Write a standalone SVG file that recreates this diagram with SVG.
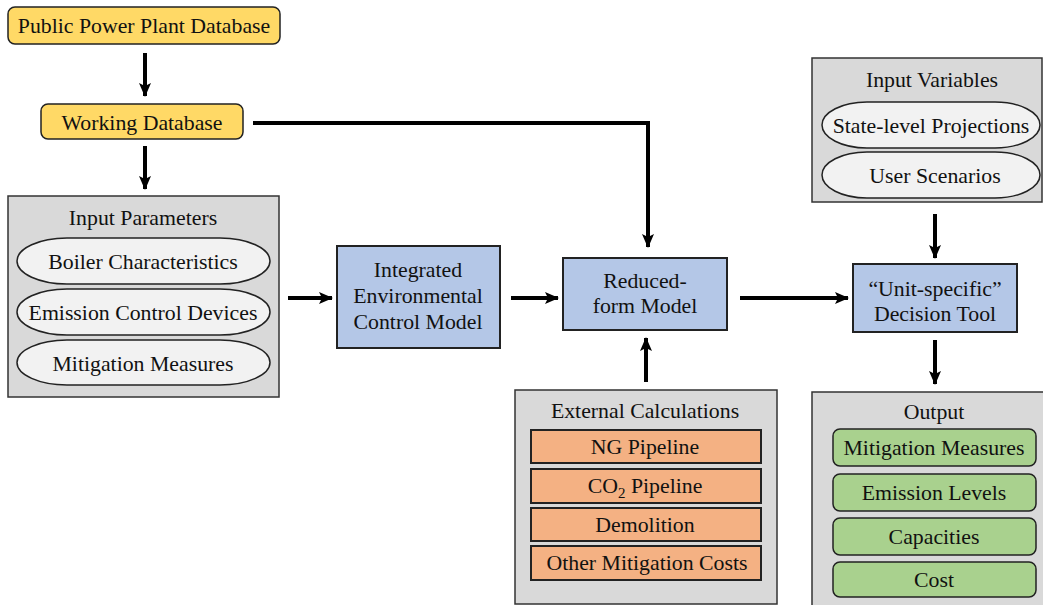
<svg xmlns="http://www.w3.org/2000/svg" width="1043" height="605" viewBox="0 0 1043 605">
<defs>
<marker id="ah" markerWidth="14" markerHeight="12" refX="13" refY="6" orient="auto" markerUnits="userSpaceOnUse">
<path d="M0,0 L14,6 L0,12 L3,6 Z" fill="#000"/>
</marker>
</defs>
<style>
text{font-family:"Liberation Serif","Times New Roman",serif;font-size:21.8px;fill:#111;text-anchor:middle}
.yel{fill:#FFD966;stroke:#222;stroke-width:1.5}
.grp{fill:#D9D9D9;stroke:#333;stroke-width:1.5}
.pill{fill:#F2F2F2;stroke:#222;stroke-width:1.5}
.blu{fill:#B4C7E7;stroke:#222;stroke-width:2}
.org{fill:#F4B183;stroke:#222;stroke-width:2}
.grn{fill:#A9D18E;stroke:#222;stroke-width:1.5}
.con{fill:none;stroke:#000;stroke-width:4;marker-end:url(#ah)}
</style>
<rect width="1043" height="605" fill="#fff"/>

<g id="public-db">
<rect class="yel" x="8" y="7" width="272" height="37" rx="7"/>
<text x="144" y="33">Public Power Plant Database</text>
</g>
<g id="working-db">
<rect class="yel" x="41" y="104" width="202" height="35" rx="7"/>
<text x="142" y="130">Working Database</text>
</g>

<g id="input-parameters">
<rect class="grp" x="8" y="196" width="271" height="201"/>
<text x="143" y="225">Input Parameters</text>
<rect class="pill" x="17" y="238" width="253" height="46" rx="50" ry="23"/>
<text x="143" y="269">Boiler Characteristics</text>
<rect class="pill" x="17" y="289" width="253" height="46" rx="50" ry="23"/>
<text x="143" y="320">Emission Control Devices</text>
<rect class="pill" x="17" y="340" width="253" height="45" rx="50" ry="22.5"/>
<text x="143" y="371">Mitigation Measures</text>
</g>

<g id="iecm">
<rect class="blu" x="337" y="246" width="163" height="102"/>
<text x="418" y="277">Integrated</text>
<text x="418" y="303">Environmental</text>
<text x="418" y="329">Control Model</text>
</g>

<g id="reduced-form">
<rect class="blu" x="563" y="258" width="164" height="72"/>
<text x="645" y="288">Reduced-</text>
<text x="645" y="313">form Model</text>
</g>

<g id="decision-tool">
<rect class="blu" x="853" y="264" width="164" height="68"/>
<text x="935" y="296">“Unit-specific”</text>
<text x="935" y="321">Decision Tool</text>
</g>

<g id="input-variables">
<rect class="grp" x="812" y="58" width="230" height="144"/>
<text x="932" y="87">Input Variables</text>
<rect class="pill" x="822" y="102" width="218" height="46" rx="45" ry="23"/>
<text x="931" y="133">State-level Projections</text>
<rect class="pill" x="822" y="152" width="218" height="46" rx="45" ry="23"/>
<text x="935" y="183">User Scenarios</text>
</g>

<g id="external-calculations">
<rect class="grp" x="515" y="390" width="262" height="214"/>
<text x="645" y="418">External Calculations</text>
<rect class="org" x="531" y="430" width="230" height="33"/>
<text x="645" y="454">NG Pipeline</text>
<rect class="org" x="531" y="469" width="230" height="34"/>
<text x="645" y="493">CO<tspan font-size="15" dy="5">2</tspan><tspan dy="-5"> Pipeline</tspan></text>
<rect class="org" x="531" y="508" width="230" height="33"/>
<text x="645" y="532">Demolition</text>
<rect class="org" x="531" y="546" width="230" height="34"/>
<text x="647" y="570">Other Mitigation Costs</text>
</g>

<g id="output">
<rect class="grp" x="812" y="392" width="232" height="215"/>
<text x="934" y="419">Output</text>
<rect class="grn" x="833" y="429" width="203" height="37" rx="7"/>
<text x="934" y="455">Mitigation Measures</text>
<rect class="grn" x="833" y="474" width="203" height="37" rx="7"/>
<text x="934" y="500">Emission Levels</text>
<rect class="grn" x="833" y="518" width="203" height="37" rx="7"/>
<text x="934" y="544">Capacities</text>
<rect class="grn" x="833" y="562" width="203" height="35" rx="7"/>
<text x="934" y="587">Cost</text>
</g>

<g id="connectors">
<line class="con" x1="145" y1="53" x2="145" y2="96"/>
<line class="con" x1="145" y1="146" x2="145" y2="189"/>
<polyline class="con" points="253,123 648,123 648,247"/>
<line class="con" x1="288" y1="298" x2="332" y2="298"/>
<line class="con" x1="511" y1="298" x2="558" y2="298"/>
<line class="con" x1="646" y1="382" x2="646" y2="338"/>
<line class="con" x1="740" y1="298" x2="848" y2="298"/>
<line class="con" x1="935" y1="214" x2="935" y2="258"/>
<line class="con" x1="935" y1="340" x2="935" y2="384"/>
</g>
</svg>
